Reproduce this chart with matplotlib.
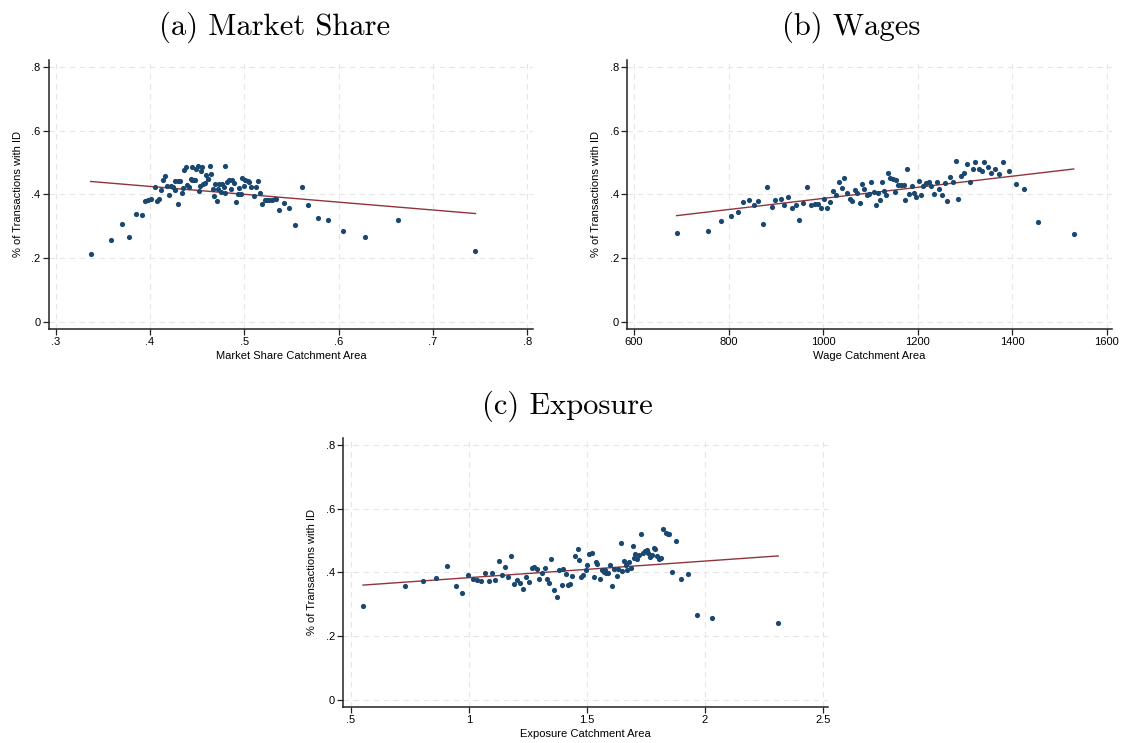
import numpy as np
import matplotlib.pyplot as plt
from matplotlib.ticker import FixedLocator, FuncFormatter

# Binned scatter points: share of transactions with ID against catchment-area measures
mshare_x = [0.337, 0.359, 0.370, 0.378, 0.385, 0.391, 0.395, 0.398, 0.401, 0.405,
            0.407, 0.410, 0.412, 0.414, 0.416, 0.418, 0.420, 0.422, 0.424, 0.426,
            0.427, 0.430, 0.430, 0.432, 0.434, 0.435, 0.436, 0.438, 0.439, 0.441,
            0.443, 0.444, 0.445, 0.447, 0.448, 0.449, 0.451, 0.452, 0.453, 0.454,
            0.455, 0.456, 0.458, 0.459, 0.461, 0.462, 0.464, 0.465, 0.467, 0.468,
            0.469, 0.471, 0.472, 0.473, 0.475, 0.476, 0.478, 0.479, 0.480, 0.482,
            0.484, 0.486, 0.487, 0.489, 0.491, 0.493, 0.494, 0.496, 0.498, 0.500,
            0.501, 0.504, 0.505, 0.507, 0.510, 0.512, 0.514, 0.517, 0.519, 0.522,
            0.524, 0.526, 0.529, 0.532, 0.534, 0.537, 0.542, 0.547, 0.554, 0.561,
            0.568, 0.578, 0.589, 0.605, 0.628, 0.663, 0.745]
mshare_y = [0.213, 0.257, 0.307, 0.265, 0.338, 0.335, 0.378, 0.381, 0.385, 0.423,
            0.380, 0.384, 0.415, 0.446, 0.458, 0.425, 0.397, 0.426, 0.422, 0.415,
            0.441, 0.370, 0.441, 0.443, 0.405, 0.420, 0.477, 0.485, 0.428, 0.422,
            0.449, 0.446, 0.485, 0.445, 0.444, 0.479, 0.489, 0.410, 0.427, 0.473,
            0.485, 0.431, 0.435, 0.460, 0.449, 0.449, 0.488, 0.464, 0.417, 0.394,
            0.432, 0.379, 0.418, 0.433, 0.407, 0.433, 0.423, 0.403, 0.490, 0.440,
            0.444, 0.418, 0.446, 0.435, 0.377, 0.402, 0.421, 0.402, 0.450, 0.425,
            0.446, 0.442, 0.438, 0.423, 0.396, 0.423, 0.443, 0.403, 0.370, 0.381,
            0.383, 0.381, 0.382, 0.385, 0.386, 0.350, 0.374, 0.357, 0.303, 0.422,
            0.368, 0.326, 0.320, 0.284, 0.266, 0.321, 0.222]
mshare_fit = [0.5237, -0.247]

wage_x = [690, 757, 785, 805, 819, 831, 843, 853, 863, 872, 881, 891, 899, 910,
          917, 926, 934, 943, 950, 958, 966, 975, 982, 989, 995, 1002, 1008, 1014,
          1021, 1027, 1034, 1039, 1045, 1051, 1056, 1061, 1067, 1072, 1077, 1082,
          1087, 1092, 1097, 1102, 1107, 1111, 1116, 1121, 1125, 1129, 1133, 1137,
          1142, 1147, 1152, 1154, 1159, 1164, 1170, 1173, 1178, 1182, 1187, 1192,
          1197, 1202, 1207, 1212, 1217, 1223, 1228, 1234, 1240, 1245, 1251, 1257,
          1263, 1269, 1274, 1280, 1286, 1291, 1297, 1304, 1311, 1317, 1322, 1329,
          1335, 1341, 1348, 1355, 1363, 1372, 1381, 1393, 1407, 1425, 1455, 1530]
wage_y = [0.278, 0.284, 0.317, 0.331, 0.345, 0.376, 0.382, 0.368, 0.379, 0.307,
          0.423, 0.361, 0.383, 0.386, 0.367, 0.392, 0.358, 0.368, 0.319, 0.374,
          0.422, 0.367, 0.370, 0.369, 0.356, 0.386, 0.358, 0.376, 0.409, 0.398,
          0.440, 0.419, 0.452, 0.404, 0.385, 0.378, 0.415, 0.404, 0.373, 0.431,
          0.418, 0.399, 0.401, 0.440, 0.407, 0.367, 0.403, 0.381, 0.438, 0.412,
          0.398, 0.466, 0.450, 0.448, 0.407, 0.444, 0.430, 0.430, 0.428, 0.383,
          0.479, 0.402, 0.426, 0.403, 0.391, 0.442, 0.399, 0.427, 0.435, 0.438,
          0.426, 0.400, 0.440, 0.417, 0.398, 0.436, 0.378, 0.455, 0.438, 0.504,
          0.385, 0.457, 0.466, 0.494, 0.440, 0.480, 0.501, 0.481, 0.474, 0.501,
          0.485, 0.467, 0.480, 0.463, 0.501, 0.472, 0.431, 0.417, 0.312, 0.276]
wage_fit = [0.2127, 0.0001745]

expo_x = [0.552, 0.729, 0.807, 0.863, 0.907, 0.944, 0.973, 0.996, 1.017, 1.035,
          1.054, 1.071, 1.086, 1.100, 1.113, 1.127, 1.141, 1.155, 1.168, 1.178,
          1.191, 1.203, 1.218, 1.230, 1.243, 1.256, 1.266, 1.278, 1.290, 1.299,
          1.309, 1.321, 1.331, 1.340, 1.350, 1.362, 1.372, 1.381, 1.393, 1.401,
          1.411, 1.421, 1.429, 1.439, 1.449, 1.461, 1.469, 1.477, 1.486, 1.496,
          1.503, 1.511, 1.521, 1.531, 1.538, 1.545, 1.555, 1.564, 1.571, 1.578,
          1.582, 1.590, 1.600, 1.609, 1.617, 1.626, 1.634, 1.643, 1.651, 1.658,
          1.665, 1.672, 1.678, 1.686, 1.695, 1.701, 1.706, 1.713, 1.722, 1.730,
          1.737, 1.746, 1.754, 1.761, 1.768, 1.775, 1.783, 1.791, 1.798, 1.807,
          1.815, 1.825, 1.835, 1.843, 1.850, 1.863, 1.880, 1.901, 1.928, 1.965,
          2.031, 2.311]
expo_y = [0.293, 0.357, 0.373, 0.383, 0.421, 0.357, 0.335, 0.392, 0.379, 0.375,
          0.374, 0.398, 0.372, 0.398, 0.376, 0.435, 0.393, 0.417, 0.384, 0.452,
          0.364, 0.375, 0.368, 0.347, 0.385, 0.371, 0.413, 0.417, 0.410, 0.380,
          0.399, 0.414, 0.380, 0.365, 0.441, 0.345, 0.324, 0.408, 0.360, 0.412,
          0.396, 0.360, 0.364, 0.387, 0.450, 0.474, 0.440, 0.385, 0.391, 0.408,
          0.422, 0.459, 0.460, 0.384, 0.431, 0.427, 0.380, 0.406, 0.400, 0.407,
          0.398, 0.397, 0.422, 0.358, 0.410, 0.387, 0.411, 0.493, 0.404, 0.437,
          0.423, 0.408, 0.432, 0.414, 0.483, 0.446, 0.457, 0.442, 0.453, 0.520,
          0.461, 0.467, 0.470, 0.461, 0.447, 0.455, 0.476, 0.473, 0.452, 0.443,
          0.445, 0.535, 0.523, 0.520, 0.519, 0.401, 0.498, 0.380, 0.396, 0.265,
          0.258, 0.242]
expo_fit = [0.3312, 0.0521]

y_ticks = [0, 0.2, 0.4, 0.6, 0.8]
mshare_ticks = [0.3, 0.4, 0.5, 0.6, 0.7, 0.8]
wage_ticks = [600, 800, 1000, 1200, 1400, 1600]
expo_ticks = [0.5, 1, 1.5, 2, 2.5]

NAVY = "#1a476f"
MAROON = "#90353b"
GRID = "#e6e6e6"

plt.rcParams['font.family'] = ['Liberation Sans', 'DejaVu Sans']


def stata_num(v, pos=None):
    # Stata-style labels: drop the leading zero, no trailing zeros
    s = f"{v:g}"
    if s.startswith("0.") and len(s) > 2:
        s = s[1:]
    return s


def draw_panel(ax, x, y, fit, xticks, xlim, xlabel):
    ax.set_xlim(*xlim)
    ax.set_ylim(-0.022, 0.822)
    ax.xaxis.set_major_locator(FixedLocator(xticks))
    ax.yaxis.set_major_locator(FixedLocator(y_ticks))
    ax.xaxis.set_major_formatter(FuncFormatter(stata_num))
    ax.yaxis.set_major_formatter(FuncFormatter(stata_num))
    ax.grid(True, color=GRID, linestyle=(0, (5, 4)), linewidth=0.8)
    ax.set_axisbelow(True)
    for side in ("top", "right"):
        ax.spines[side].set_visible(False)
    for side in ("left", "bottom"):
        ax.spines[side].set_linewidth(1.1)
        ax.spines[side].set_color("#222222")
    ax.tick_params(direction="out", length=4, width=0.9, labelsize=8, pad=2,
                   color="#222222")
    ax.set_xlabel(xlabel, fontsize=8, labelpad=3)
    ax.set_ylabel("% of Transactions with ID", fontsize=8, labelpad=6)

    ax.scatter(x, y, s=14, color=NAVY, linewidths=0, zorder=3)
    xs = np.array([min(x), max(x)])
    ax.plot(xs, fit[0] + fit[1] * xs, color=MAROON, linewidth=1.0, zorder=2)


W, H = 1125, 743
fig = plt.figure(figsize=(W / 100, H / 100), dpi=100)


def add_axes(x0, y0, x1, y1):
    # pixel box (left, top, right, bottom) -> figure fraction
    return fig.add_axes([x0 / W, 1 - y1 / H, (x1 - x0) / W, (y1 - y0) / H])


ax_a = add_axes(48.7, 60, 533, 328.7)
ax_b = add_axes(627.3, 60, 1112, 328.7)
ax_c = add_axes(343.3, 438, 828, 706.7)

draw_panel(ax_a, mshare_x, mshare_y, mshare_fit, mshare_ticks, (0.2926, 0.806),
           "Market Share Catchment Area")
draw_panel(ax_b, wage_x, wage_y, wage_fit, wage_ticks, (585.8, 1611),
           "Wage Catchment Area")
draw_panel(ax_c, expo_x, expo_y, expo_fit, expo_ticks, (0.4686, 2.522),
           "Exposure Catchment Area")

title_kw = dict(fontsize=22, family="cmr10", ha="center", va="center")
fig.text(275 / W, 1 - 27 / H, "(a) Market Share", **title_kw)
fig.text(851 / W, 1 - 27 / H, "(b) Wages", **title_kw)
fig.text(567 / W, 1 - 406 / H, "(c) Exposure", **title_kw)

fig.savefig("out.png", dpi=100, facecolor="white")
